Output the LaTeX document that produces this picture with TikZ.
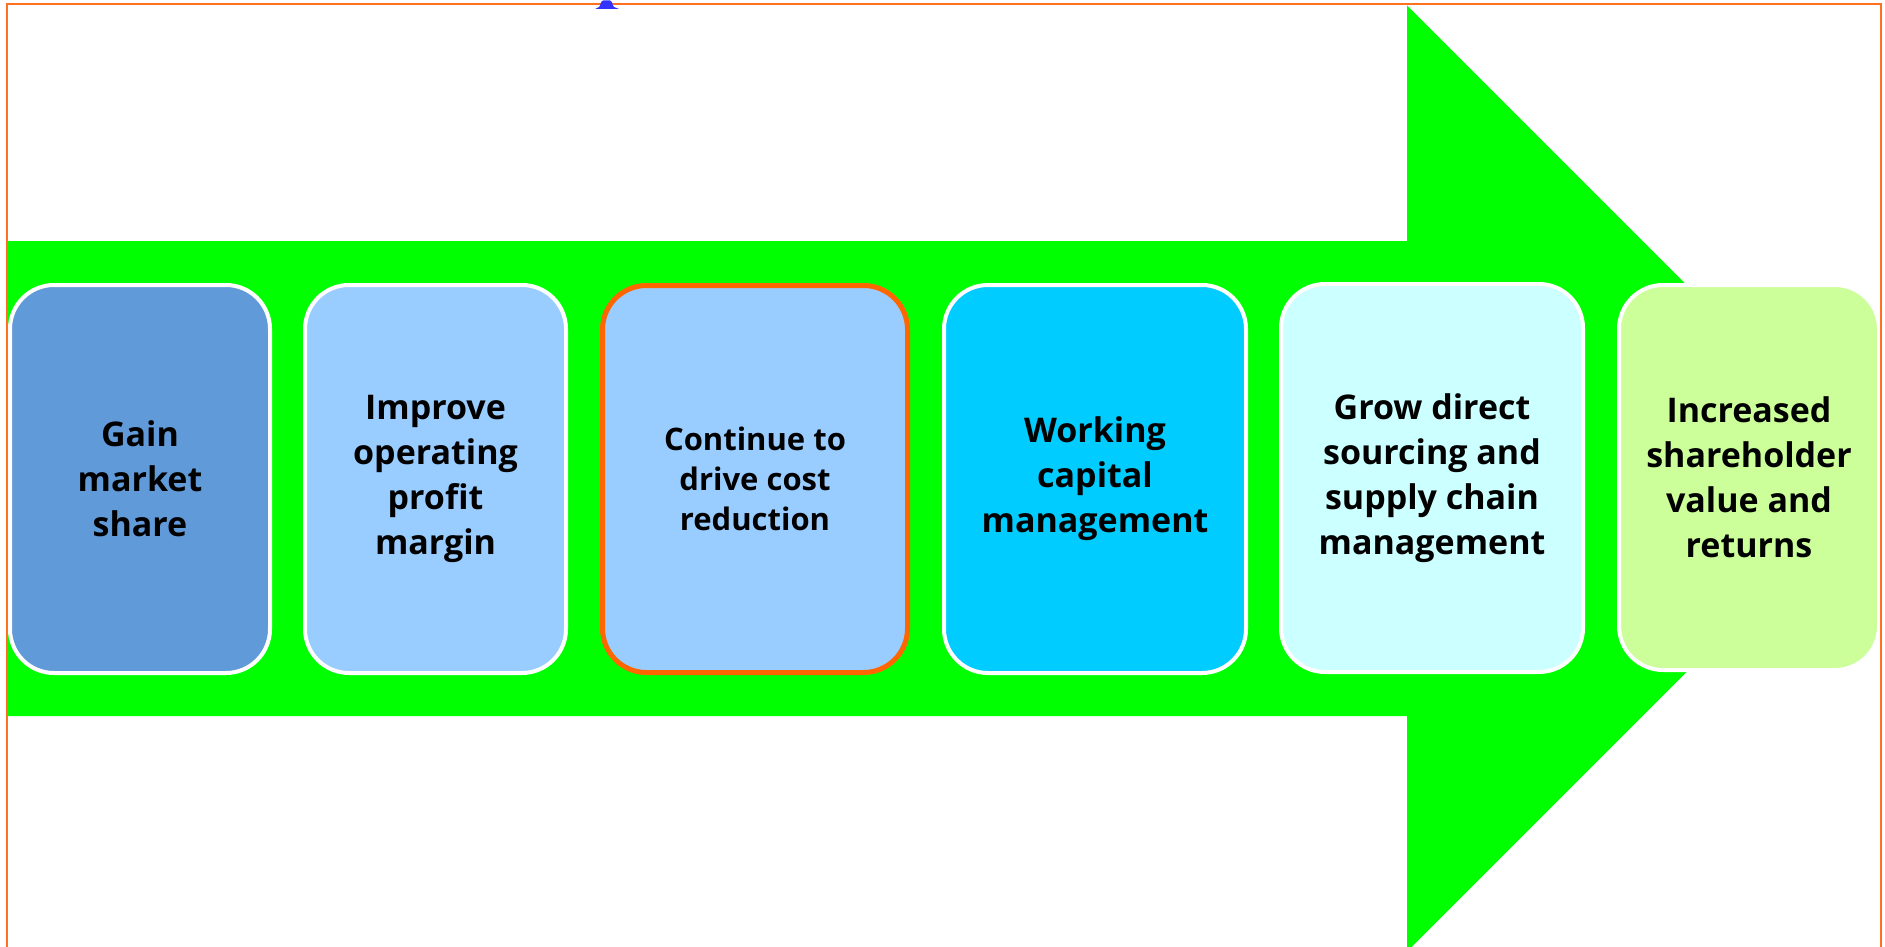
\documentclass[tikz,border=0pt]{standalone}
\usepackage{fontspec}
\setmainfont{Open Sans}
\definecolor{arrowgreen}{HTML}{00FF00}
\definecolor{frameorange}{HTML}{FF7020}
\definecolor{hilite}{HTML}{FF6600}
\definecolor{markblue}{HTML}{3333FF}
\definecolor{fillA}{HTML}{619AD9}
\definecolor{fillB}{HTML}{99CCFF}
\definecolor{fillC}{HTML}{00CCFF}
\definecolor{fillD}{HTML}{CCFFFF}
\definecolor{fillE}{HTML}{CCFF99}
\begin{document}
\begin{tikzpicture}[x=1pt,y=-1pt,
  stepbox/.style={rounded corners=44pt, draw=white, line width=4pt,
    inner sep=0pt, align=center, text=black,
    font=\fontsize{34}{45}\selectfont\bfseries,
    minimum height=388pt},
  smalltext/.style={font=\fontsize{31}{40}\selectfont\bfseries}]
\useasboundingbox (0,0) rectangle (1885,947);

% big green arrow behind the steps
\fill[arrowgreen] (8,241) -- (1407,241) -- (1407,5.5) -- (1880,478.5)
  -- (1407,951.5) -- (1407,716) -- (8,716) -- cycle;

% the six steps
\node[stepbox, fill=fillA, minimum width=260pt] (s1) at (140,479)
  {Gain\\market\\share};
\node[stepbox, fill=fillB, minimum width=261pt] (s2) at (435.5,479)
  {Improve\\operating\\profit\\margin};
\node[stepbox, smalltext, fill=fillB, draw=hilite, line width=5pt,
  minimum width=305pt, minimum height=387pt] (s3) at (755,479)
  {Continue to\\drive cost\\reduction};
\node[stepbox, fill=fillC, minimum width=302pt] (s4) at (1095,479)
  {Working\\capital\\management};
\node[stepbox, fill=fillD, minimum width=302pt] (s5) at (1432,478)
  {Grow direct\\sourcing and\\supply chain\\management};
\node[stepbox, fill=fillE, minimum width=260pt, minimum height=385pt] (s6) at (1749,477.5)
  {Increased\\shareholder\\value and\\returns};

% outer frame, open at the bottom
\draw[frameorange, line width=2pt] (7,960) -- (7,4.5) -- (1881,4.5) -- (1881,960);

% small blue handle on the top edge
\fill[markblue] (595,9) -- (599,7) .. controls (600.5,6) and (600.5,1) .. (603,0.5)
  -- (610,0.5) .. controls (612.5,1) and (612.5,6) .. (614,7) -- (619,9) -- cycle;
\end{tikzpicture}
\end{document}
